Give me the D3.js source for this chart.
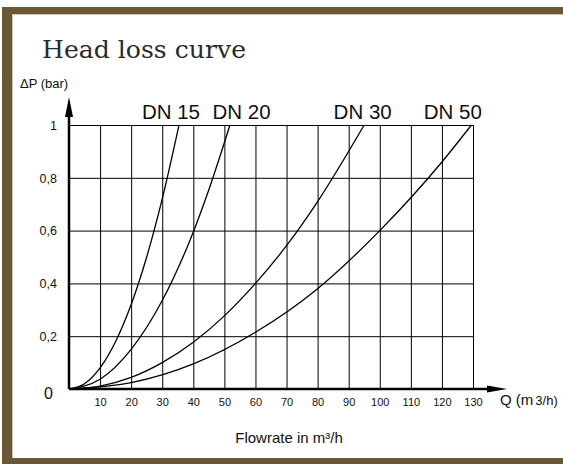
<!DOCTYPE html>
<html lang="en">
  <head>
    <meta charset="utf-8">
    <title>Head loss curve</title>
    <script src="https://d3js.org/d3.v7.js"></script>
    <style>
      html, body { margin: 0; padding: 0; background: #fff; overflow: hidden; }
      svg { display: block; }
    </style>
  </head>
  <body>
    <script>

  // data
  var xTicks = [10, 20, 30, 40, 50, 60, 70, 80, 90, 100, 110, 120, 130];
  var yTicks = [0, 0.2, 0.4, 0.6, 0.8, 1];
  var seriesNames = ["DN 15", "DN 20", "DN 30", "DN 50"];

  var flowDN15 = [0, 5, 10, 15, 20, 25, 30, 35.4];
  var dpDN15   = [0, 0.02, 0.08, 0.18, 0.32, 0.50, 0.72, 1.0];
  var flowDN20 = [0, 10, 20, 30, 40, 45, 51.8];
  var dpDN20   = [0, 0.037, 0.15, 0.335, 0.595, 0.755, 1.0];
  var flowDN30 = [0, 10, 20, 30, 40, 50, 60, 70, 80, 95];
  var dpDN30   = [0, 0.011, 0.044, 0.10, 0.177, 0.277, 0.40, 0.543, 0.71, 1.0];
  var flowDN50 = [0, 20, 40, 60, 80, 100, 120, 129.5];
  var dpDN50   = [0, 0.024, 0.095, 0.215, 0.38, 0.6, 0.86, 1.0];

  // width and height
  var w = 563;
  var h = 464;
  var margin = {top: 125, left: 69};
  var innerWidth = 404;
  var innerHeight = 264;
  var brown = "#695735";
  var sans = "'Liberation Sans', Arial, sans-serif";

  var series = [
    {name: seriesNames[0], flow: flowDN15, dp: dpDN15},
    {name: seriesNames[1], flow: flowDN20, dp: dpDN20},
    {name: seriesNames[2], flow: flowDN30, dp: dpDN30},
    {name: seriesNames[3], flow: flowDN50, dp: dpDN50}
  ];

  var xScale = d3.scaleLinear().domain([0, 130]).range([0, innerWidth]);
  var yScale = d3.scaleLinear().domain([0, 1]).range([innerHeight, 0]);

  var svg = d3.select("body")
    .append("svg")
    .attr("width", w)
    .attr("height", h);

  // frame: left, top and bottom bands, open on the right
  svg.append("rect").attr("x", 2).attr("y", 7).attr("width", w - 2).attr("height", h - 7).attr("fill", brown);
  svg.append("rect").attr("x", 12).attr("y", 14).attr("width", w).attr("height", 444).attr("fill", "#fff");
  svg.append("path").attr("d", "M12.5,458V14.5H563").attr("fill", "none").attr("stroke", "#c9c3b6").attr("stroke-width", 1);

  // title
  svg.append("text")
    .attr("x", 42).attr("y", 58)
    .attr("font-family", "'DejaVu Serif', serif")
    .attr("font-size", 24.5)
    .attr("textLength", 204)
    .attr("lengthAdjust", "spacingAndGlyphs")
    .attr("fill", "#2a2a2a")
    .text("Head loss curve");

  svg.append("text")
    .attr("x", 20).attr("y", 88)
    .attr("font-family", sans).attr("font-size", 13)
    .attr("fill", "#111")
    .text("ΔP (bar)");

  var g = svg.append("g").attr("transform", `translate(${margin.left}, ${margin.top})`);

  // vertical grid + x labels
  var xAxis = d3.axisBottom(xScale)
    .tickValues(xTicks)
    .tickSize(-innerHeight)
    .tickFormat(d => d);

  var gx = g.append("g")
    .attr("transform", `translate(0, ${innerHeight})`)
    .call(xAxis);
  gx.select(".domain").remove();
  gx.selectAll(".tick line").attr("stroke", "#000").attr("stroke-width", 1);
  gx.selectAll(".tick text")
    .attr("y", 17).attr("dy", 0)
    .attr("font-family", sans).attr("font-size", 11)
    .attr("fill", "#111");

  // horizontal grid + y labels
  var yAxis = d3.axisLeft(yScale)
    .tickValues(yTicks)
    .tickSize(-innerWidth)
    .tickFormat(d => String(d).replace(".", ","));

  var gy = g.append("g").call(yAxis);
  gy.select(".domain").remove();
  gy.selectAll(".tick line").attr("stroke", "#000").attr("stroke-width", 1);
  gy.selectAll(".tick text")
    .attr("x", -12).attr("dy", "0.35em")
    .attr("font-family", sans).attr("font-size", 12.5)
    .attr("fill", "#111");
  gy.selectAll(".tick").filter(d => d === 0).select("line").remove();
  gy.selectAll(".tick").filter(d => d === 0).select("text")
    .attr("x", -16).attr("dy", "0.6em")
    .attr("font-size", 16);

  // curves
  var line = d3.line()
    .x(d => xScale(d[0]))
    .y(d => yScale(d[1]))
    .curve(d3.curveMonotoneX);

  g.selectAll(".curve")
    .data(series)
    .enter()
    .append("path")
    .attr("class", "curve")
    .attr("d", s => line(s.flow.map((q, i) => [q, s.dp[i]])))
    .attr("fill", "none")
    .attr("stroke", "#000")
    .attr("stroke-width", 1.3);

  // series labels above the plot
  var labelQ = [32.8, 55.5, 94.5, 123.5];
  g.selectAll(".dn")
    .data(series)
    .enter()
    .append("text")
    .attr("class", "dn")
    .attr("x", (s, i) => xScale(labelQ[i]))
    .attr("y", -6)
    .attr("text-anchor", "middle")
    .attr("font-family", sans).attr("font-size", 20.5)
    .attr("fill", "#111")
    .text(s => s.name);

  // axes with arrows
  g.append("path")
    .attr("d", `M0,${innerHeight}V-12`)
    .attr("stroke", "#000").attr("stroke-width", 2.5);
  g.append("path")
    .attr("d", "M0,-28L-4,-8L4,-8Z")
    .attr("fill", "#000");
  g.append("path")
    .attr("d", `M0,${innerHeight}H${innerWidth + 20}`)
    .attr("stroke", "#000").attr("stroke-width", 2.5);
  g.append("path")
    .attr("d", `M${innerWidth + 34},${innerHeight}L${innerWidth + 14},${innerHeight - 3.5}L${innerWidth + 14},${innerHeight + 3.5}Z`)
    .attr("fill", "#000");

  // axis titles
  var qLabel = svg.append("text")
    .attr("x", 500).attr("y", 405)
    .attr("font-family", sans).attr("font-size", 15)
    .attr("fill", "#111");
  qLabel.append("tspan").text("Q (m");
  qLabel.append("tspan").attr("font-size", 13).attr("dx", 2).text("3/h)");

  svg.append("text")
    .attr("x", 289).attr("y", 443)
    .attr("text-anchor", "middle")
    .attr("font-family", sans).attr("font-size", 15)
    .attr("fill", "#111")
    .text("Flowrate in m³/h");

    </script>
  </body>
</html>
